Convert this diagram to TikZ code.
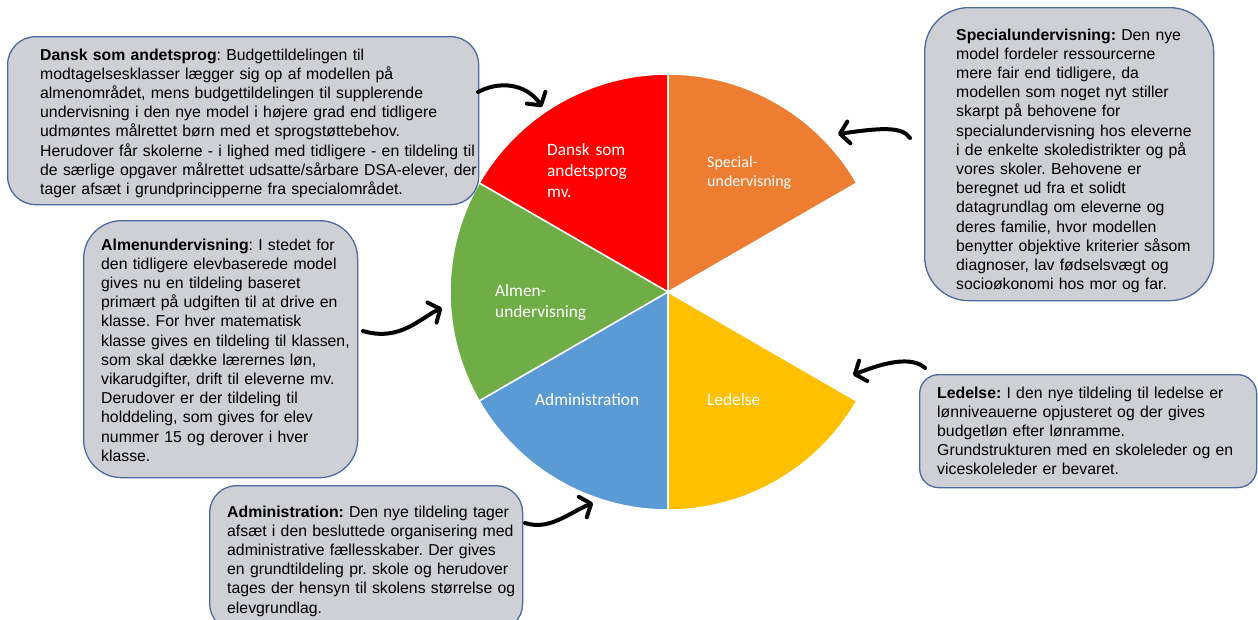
\documentclass[tikz,border=0pt]{standalone}
\usepackage{fontspec}
\setmainfont{Liberation Sans}
\newfontfamily\calib{Carlito}
\usetikzlibrary{arrows.meta}
\frenchspacing
\definecolor{boxfill}{HTML}{CFD0D6}
\definecolor{boxline}{HTML}{4B6AA0}
\definecolor{pred}{HTML}{FF0000}
\definecolor{porange}{HTML}{ED7D31}
\definecolor{pgreen}{HTML}{70AD47}
\definecolor{pblue}{HTML}{5B9BD5}
\definecolor{pyellow}{HTML}{FFC000}
\tikzset{
  infobox/.style={draw=boxline, fill=boxfill, line width=1.3pt, inner sep=0pt, anchor=north west},
  infotext/.style={anchor=base west, inner sep=0pt, text width=520pt, align=left,
     font=\frenchspacing\fontsize{15.8}{19.2}\selectfont, text=black},
  slicelabel/.style={anchor=base west, inner sep=0pt, text width=160pt, align=left,
     font=\calib\fontsize{17.3}{21}\selectfont, text=white},
  slice/.style={draw=white, line width=1.5pt},
  bigarrow/.style={line width=4pt, line cap=round, draw=black,
     -{Straight Barb[length=9pt,width=22pt,line cap=round,line join=round]}},
}
\begin{document}
\begin{tikzpicture}[x=1pt,y=1pt]
\useasboundingbox (0,0) rectangle (1258,-619);
\fill[white] (0,0) rectangle (1258,-619);

% pie
\coordinate (pc) at (668,-292);
\def\R{218}
\filldraw[slice, fill=pred]    (pc) -- ++(90:\R)  arc[start angle=90,  end angle=150, radius=\R] -- cycle;
\filldraw[slice, fill=pgreen]  (pc) -- ++(150:\R) arc[start angle=150, end angle=210, radius=\R] -- cycle;
\filldraw[slice, fill=pblue]   (pc) -- ++(210:\R) arc[start angle=210, end angle=270, radius=\R] -- cycle;
\filldraw[slice, fill=pyellow] (pc) -- ++(270:\R) arc[start angle=270, end angle=330, radius=\R] -- cycle;
\filldraw[slice, fill=porange] (pc) -- ++(30:\R)  arc[start angle=30,  end angle=90,  radius=\R] -- cycle;

\node[slicelabel] (ldsa) at (547,-155) {Dansk som\\andetsprog\\mv.};
\node[slicelabel, font=\calib\fontsize{16}{19}\selectfont] (lspec) at (707,-167) {Special-\\undervisning};
\node[slicelabel] (lalm) at (495,-296) {Almen-\\undervisning};
\node[slicelabel] (ladm) at (535,-405) {Administration};
\node[slicelabel] (lled) at (707,-405) {Ledelse};

% boxes
\node[infobox, minimum width=471pt, minimum height=168pt, rounded corners=28pt] (b1) at (7,-36) {};
\node[infotext] (t1) at (40,-60) {\textbf{Dansk som andetsprog}: Budgettildelingen til\\
modtagelsesklasser lægger sig op af modellen på\\
almenområdet, mens budgettildelingen til supplerende\\
undervisning i den nye model i højere grad end tidligere\\
udmøntes målrettet børn med et sprogstøttebehov.\\
Herudover får skolerne - i lighed med tidligere - en tildeling til\\
de særlige opgaver målrettet udsatte/sårbare DSA-elever, der\\
tager afsæt i grundprincipperne fra specialområdet.};

\node[infobox, minimum width=274pt, minimum height=257pt, rounded corners=38pt] (b2) at (83,-220) {};
\node[infotext] (t2) at (101,-250) {\textbf{Almenundervisning}: I stedet for\\
den tidligere elevbaserede model\\
gives nu en tildeling baseret\\
primært på udgiften til at drive en\\
klasse. For hver matematisk\\
klasse gives en tildeling til klassen,\\
som skal dække lærernes løn,\\
vikarudgifter, drift til eleverne mv.\\
Derudover er der tildeling til\\
holddeling, som gives for elev\\
nummer 15 og derover i hver\\
klasse.};

\node[infobox, minimum width=289pt, minimum height=293pt, rounded corners=44pt] (b3) at (924,-7) {};
\node[infotext] (t3) at (956,-40) {\textbf{Specialundervisning:} Den nye\\
model fordeler ressourcerne\\
mere fair end tidligere, da\\
modellen som noget nyt stiller\\
skarpt på behovene for\\
specialundervisning hos eleverne\\
i de enkelte skoledistrikter og på\\
vores skoler. Behovene er\\
beregnet ud fra et solidt\\
datagrundlag om eleverne og\\
deres familie, hvor modellen\\
benytter objektive kriterier såsom\\
diagnoser, lav fødselsvægt og\\
socioøkonomi hos mor og far.};

\node[infobox, minimum width=337pt, minimum height=113pt, rounded corners=19pt] (b4) at (919,-374) {};
\node[infotext] (t4) at (937,-398) {\textbf{Ledelse:} I den nye tildeling til ledelse er\\
lønniveauerne opjusteret og der gives\\
budgetløn efter lønramme.\\
Grundstrukturen med en skoleleder og en\\
viceskoleleder er bevaret.};

\node[infobox, minimum width=313pt, minimum height=145pt, rounded corners=27pt] (b5) at (209,-485) {};
\node[infotext] (t5) at (227,-517) {\textbf{Administration:} Den nye tildeling tager\\
afsæt i den besluttede organisering med\\
administrative fællesskaber. Der gives\\
en grundtildeling pr. skole og herudover\\
tages der hensyn til skolens størrelse og\\
elevgrundlag.};

% arrows
\coordinate (a1s) at (478,-92);  \coordinate (a1e) at (542,-107);
\coordinate (a2s) at (910,-138); \coordinate (a2e) at (838,-134);
\coordinate (a3s) at (363,-331); \coordinate (a3e) at (442,-308);
\coordinate (a4s) at (925,-368); \coordinate (a4e) at (853,-375);
\coordinate (a5s) at (525,-523); \coordinate (a5e) at (593,-503);
\draw[bigarrow] (a1s) .. controls (505,-78) and (530,-88) .. (a1e);
\draw[bigarrow] (a2s) .. controls (902,-126) and (880,-128) .. (a2e);
\draw[bigarrow] (a3s) .. controls (400,-342) and (420,-318) .. (a3e);
\draw[bigarrow] (a4s) .. controls (912,-356) and (885,-362) .. (a4e);
\draw[bigarrow] (a5s) .. controls (550,-531) and (570,-512) .. (a5e);
\end{tikzpicture}
\end{document}
